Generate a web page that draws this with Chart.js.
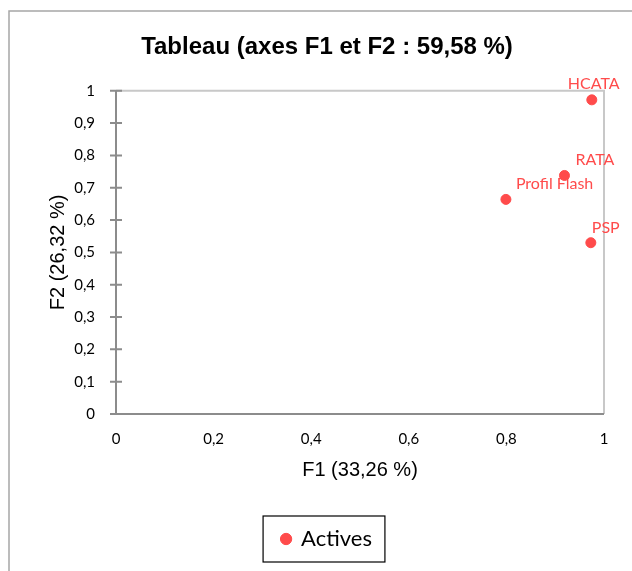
<!DOCTYPE html>
<html>
<head>
<meta charset="utf-8">
<script src="https://cdn.jsdelivr.net/npm/chart.js"></script>
<style>
  html, body { margin: 0; padding: 0; background: #fff; }
  #wrap { width: 632px; height: 571px; }
</style>
</head>
<body>
<div id="wrap"><canvas id="chart" width="632" height="571"></canvas></div>
<script>
const labels = ["HCATA", "RATA", "Profil Flash", "PSP"];
const f1Values = [0.975, 0.919, 0.799, 0.973];
const f2Values = [0.972, 0.738, 0.664, 0.530];
const xTicks = [0, 0.2, 0.4, 0.6, 0.8, 1];
const yTicks = [0, 0.1, 0.2, 0.3, 0.4, 0.5, 0.6, 0.7, 0.8, 0.9, 1];

const red = "#ff4b4b";
const fmt = (v) => String(Math.round(v * 10) / 10).replace(".", ",");

// décalage des étiquettes (gauche, centre vertical) par rapport au point
const labelOffsets = {
  "HCATA": [-24, -16],
  "RATA": [11, -16],
  "Profil Flash": [10, -16],
  "PSP": [1, -15],
};

const decorations = {
  id: "decorations",
  beforeDraw: (chart) => {
    const { ctx, width, height } = chart;
    ctx.save();
    ctx.fillStyle = "#fff";
    ctx.fillRect(0, 0, width, height);
    // cadre extérieur
    ctx.strokeStyle = "#a6a6a6";
    ctx.lineWidth = 1.5;
    ctx.strokeRect(9, 11, width + 20, height + 20);
    ctx.restore();
  },
  afterDraw: (chart) => {
    const { ctx, chartArea: a, scales } = chart;
    ctx.save();
    // bords haut et droit
    ctx.strokeStyle = "#c8c8c8";
    ctx.lineWidth = 2;
    ctx.beginPath();
    ctx.moveTo(a.left, a.top);
    ctx.lineTo(a.right, a.top);
    ctx.lineTo(a.right, a.bottom);
    ctx.stroke();
    // axes
    ctx.strokeStyle = "#8c8c8c";
    ctx.beginPath();
    ctx.moveTo(a.left - 6, a.bottom);
    ctx.lineTo(a.right, a.bottom);
    ctx.moveTo(a.left, a.top);
    ctx.lineTo(a.left, a.bottom);
    yTicks.forEach((t) => {
      const y = scales.y.getPixelForValue(t);
      ctx.moveTo(a.left - 6, y);
      ctx.lineTo(a.left + 6, y);
    });
    ctx.stroke();
    // étiquettes des points
    const meta = chart.getDatasetMeta(0);
    ctx.fillStyle = red;
    ctx.font = "16px Lato";
    ctx.textAlign = "left";
    ctx.textBaseline = "middle";
    meta.data.forEach((pt, i) => {
      const off = labelOffsets[labels[i]] || [8, -15];
      ctx.fillText(labels[i], pt.x + off[0], pt.y + off[1]);
    });
    // cadre de la légende
    const box = chart.legend.legendHitBoxes[0];
    if (box) {
      ctx.strokeStyle = "#000";
      ctx.lineWidth = 1.2;
      ctx.strokeRect(box.left - 19, box.top - 12, box.width + 32, box.height + 24);
    }
    ctx.restore();
  },
};

new Chart(document.getElementById("chart"), {
  type: "scatter",
  data: {
    datasets: [
      {
        label: "Actives",
        data: f1Values.map((x, i) => ({ x: x, y: f2Values[i] })),
        backgroundColor: red,
        borderColor: red,
        pointRadius: 5,
        pointHoverRadius: 5,
      },
    ],
  },
  options: {
    responsive: false,
    animation: false,
    layout: { padding: { left: 50, right: 28, top: 0, bottom: 11 } },
    plugins: {
      tooltip: { enabled: false },
      title: {
        display: true,
        text: "Tableau (axes F1 et F2 : 59,58 %)",
        color: "#000",
        font: { family: "Liberation Sans", size: 24, weight: "bold" },
        padding: { top: 33, bottom: 29 },
      },
      legend: {
        position: "bottom",
        labels: {
          usePointStyle: true,
          pointStyle: "circle",
          boxWidth: 8,
          boxHeight: 8,
          color: "#000",
          font: { family: "Lato", size: 22 },
          padding: 10,
        },
      },
    },
    scales: {
      x: {
        type: "linear",
        min: 0,
        max: 1,
        afterBuildTicks: (s) => { s.ticks = xTicks.map((v) => ({ value: v })); },
        afterFit: (s) => { s.height = 104; },
        grid: { display: false },
        border: { display: false },
        ticks: {
          color: "#000",
          font: { family: "Lato", size: 15 },
          padding: 8,
          callback: (v) => fmt(v),
          maxRotation: 0,
        },
        title: {
          display: true,
          text: "F1 (33,26 %)",
          color: "#000",
          font: { family: "Liberation Sans", size: 20 },
          padding: { top: 0, bottom: 36 },
        },
      },
      y: {
        type: "linear",
        min: 0,
        max: 1,
        afterBuildTicks: (s) => { s.ticks = yTicks.map((v) => ({ value: v })); },
        afterFit: (s) => { s.width = 66; },
        grid: { display: false },
        border: { display: false },
        ticks: {
          color: "#000",
          font: { family: "Lato", size: 15 },
          padding: 13,
          callback: (v) => fmt(v),
        },
        title: {
          display: true,
          text: "F2 (26,32 %)",
          color: "#000",
          font: { family: "Liberation Sans", size: 20 },
          padding: { top: -4, bottom: 0 },
        },
      },
    },
  },
  plugins: [decorations],
});
</script>
</body>
</html>
